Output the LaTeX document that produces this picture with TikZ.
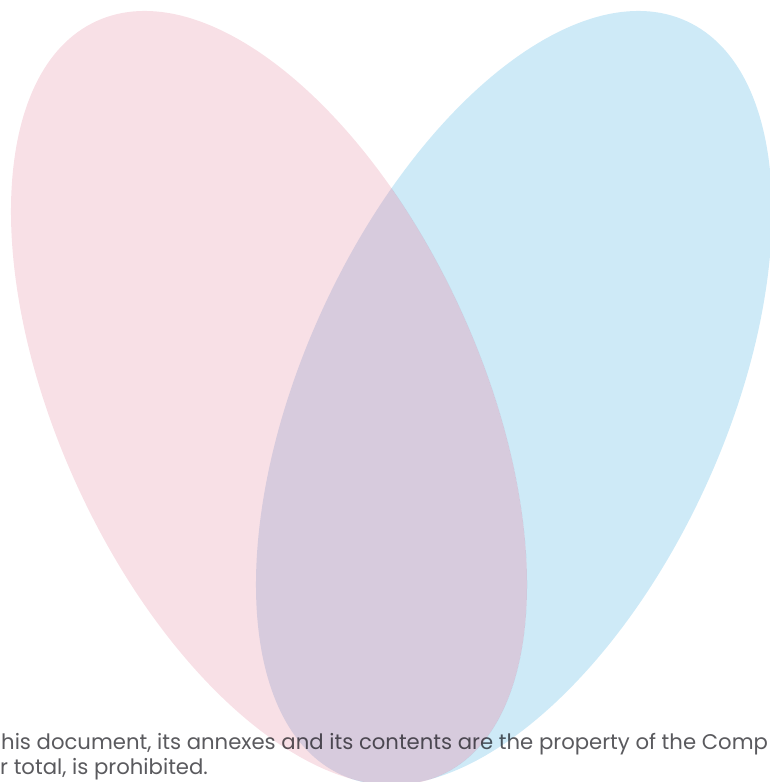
\documentclass[tikz,border=0pt]{standalone}
\usepackage{fontspec}
\setmainfont{Poppins}
\usepackage{xcolor}
\usepackage{tikz}
\usetikzlibrary{positioning}

\definecolor{leafpink}{RGB}{248,224,230}
\definecolor{leafblue}{RGB}{206,234,247}
\definecolor{leafmix}{RGB}{222,232,246}
\definecolor{notegray}{RGB}{90,90,94}

\begin{document}
\begin{tikzpicture}[x=1pt,y=1pt,
  notice/.style={anchor=base west,inner sep=0pt,text=notegray,
    font=\fontsize{21.2}{25}\selectfont},
  tint/.style={blend mode=multiply}]

  \useasboundingbox (0,0) rectangle (769,782);

  % Footer notice, it sits under the leaves
  \node[notice] (line1) at (1,32)
    {his document, its annexes and its contents are the property of the Comp};
  \node[notice] (line2) at (0,7) {r total, is prohibited.};

  % Leaves: centres 269 / 514, mirrored tilt
  \def\pinkpath{(269,384) circle [x radius=211pt, y radius=414.5pt, rotate=24.6]}
  \def\bluepath{(514,384) circle [x radius=211pt, y radius=414.5pt, rotate=-24.6]}

  % Pink leaf
  \fill[leafpink,tint] \pinkpath;

  % Blue leaf, outside the pink one
  \begin{scope}
    \clip \bluepath;
    \fill[leafblue,tint,even odd rule] (-10,-10) rectangle (790,800) \pinkpath;
  \end{scope}

  % Overlap
  \begin{scope}
    \clip \pinkpath;
    \fill[leafmix,tint] \bluepath;
  \end{scope}

\end{tikzpicture}
\end{document}
